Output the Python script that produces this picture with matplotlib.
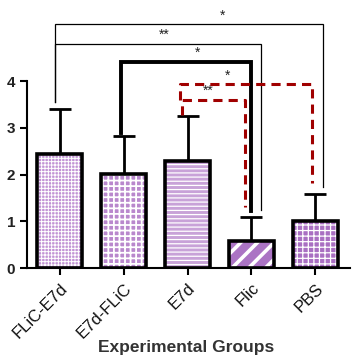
import matplotlib

matplotlib.use("Agg")
import matplotlib.pyplot as plt
import numpy as np

# values
groups = ["FLiC-E7d", "E7d-FLiC", "E7d", "Flic", "PBS"]
means = [2.44, 2.01, 2.30, 0.58, 1.01]
upper_err = [0.96, 0.82, 0.95, 0.52, 0.57]
hatches = ["+++++", "+++", "----", "//", "+++"]
hatch_widths = [0.7, 1.3, 0.9, 2.6, 0.9]
face_colors = ["#c193d4", "#b988cd", "#c8a2d8", "#ab74c4", "#a96fc2"]

# significance brackets: (x_left, x_right, y, left_leg_bottom, right_leg_bottom, style)
brackets = [
    (-0.07, 4.12, 5.22, 3.56, 1.73, "thin"),
    (-0.07, 3.15, 4.80, 3.56, 1.24, "thin"),
    (0.96, 2.99, 4.42, 2.89, 1.22, "thick"),
    (1.88, 3.95, 3.93, 3.60, 1.82, "red"),
    (1.91, 2.90, 3.60, 3.28, 1.31, "red"),
]
star_labels = ["*", "**", "*", "*", "**"]
star_x = [2.54, 1.63, 2.15, 2.62, 2.32]

plt.rcParams["font.family"] = ["Liberation Sans", "DejaVu Sans"]

dark_red = "#a00000"

fig = plt.figure(figsize=(3.52, 3.57), dpi=100)
ax = fig.add_axes([0.077, 0.249, 0.917, 0.737])

x = np.arange(len(groups))
width = 0.7

for xi, m, h, hw, fc in zip(x, means, hatches, hatch_widths, face_colors):
    with plt.rc_context({"hatch.linewidth": hw}):
        ax.bar(xi, m, width, color=fc, edgecolor="white", hatch=h,
               linewidth=0, zorder=2)
ax.bar(x, means, width, facecolor="none", edgecolor="black", linewidth=2.6, zorder=3)
ax.errorbar(x, means, yerr=[np.zeros(len(x)), upper_err], fmt="none",
            ecolor="black", elinewidth=2.0, capsize=8, capthick=2.0, zorder=1)

styles = {
    "thin": dict(color="black", lw=0.9, ls="-"),
    "thick": dict(color="black", lw=2.8, ls="-"),
    "red": dict(color=dark_red, lw=2.2, ls=(0, (3, 2))),
}
for (x0, x1, y, yl, yr, st), label, sx in zip(brackets, star_labels, star_x):
    ax.plot([x0, x0, x1, x1], [yl, y, y, yr], clip_on=False, zorder=4,
            solid_joinstyle="miter", **styles[st])
    ax.text(sx, y + 0.04, label, ha="center", va="bottom",
            fontsize=10, color="#222222")

ax.set_xlim(-0.51, 4.54)
ax.set_ylim(0, 5.63)
ax.set_yticks([0, 1, 2, 3, 4])
ax.spines["left"].set_bounds(0, 4)
ax.spines["top"].set_visible(False)
ax.spines["right"].set_visible(False)
ax.spines["left"].set_linewidth(1.5)
ax.spines["bottom"].set_linewidth(1.5)
ax.set_xticks(x)
ax.set_xticklabels(groups, rotation=45, ha="right", rotation_mode="anchor",
                   fontsize=12, color="#111111")
for lab in ax.get_yticklabels():
    lab.set_fontweight("bold")
    lab.set_fontsize(11)
    lab.set_color("#222222")
ax.tick_params(axis="both", width=1.5, length=5)
ax.tick_params(axis="x", pad=4)
ax.set_xlabel("Experimental Groups", fontsize=12.5, fontweight="bold",
              color="#333333", va="center")
ax.xaxis.set_label_coords(0.494, -0.30)

fig.savefig("out.png", dpi=100)
